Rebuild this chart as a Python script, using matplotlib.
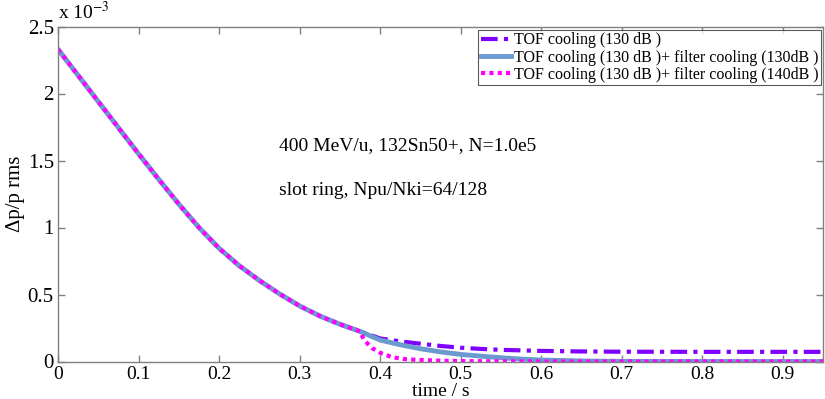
import matplotlib
matplotlib.use("Agg")
import matplotlib.pyplot as plt

# time axis (s) and dp/p rms values (in units of 1e-3)
t_common = [0.0, 0.025, 0.05, 0.075, 0.1, 0.125, 0.15, 0.175, 0.2, 0.225,
            0.25, 0.275, 0.3, 0.325, 0.35, 0.375]
v_common = [2.33, 2.135, 1.94, 1.745, 1.55, 1.36, 1.175, 1.0, 0.845, 0.715,
            0.605, 0.505, 0.415, 0.34, 0.278, 0.225]

t_tof = [0.375, 0.4, 0.425, 0.45, 0.475, 0.5, 0.525, 0.55, 0.6, 0.65, 0.7, 0.8, 0.95]
v_tof = [0.225, 0.172, 0.150, 0.133, 0.116, 0.103, 0.094, 0.087, 0.079, 0.075, 0.073, 0.072, 0.072]

t_f130 = [0.375, 0.4, 0.425, 0.45, 0.475, 0.5, 0.525, 0.55, 0.575, 0.6, 0.65, 0.7, 0.8, 0.95]
v_f130 = [0.225, 0.160, 0.125, 0.095, 0.072, 0.053, 0.040, 0.028, 0.018, 0.011, 0.004, 0.001, 0.0, 0.0]

t_f140 = [0.375, 0.38, 0.39, 0.4, 0.415, 0.43, 0.445, 0.475, 0.5, 0.55, 0.6, 0.95]
v_f140 = [0.225, 0.16, 0.10, 0.065, 0.032, 0.018, 0.012, 0.006, 0.003, 0.001, 0.0, 0.0]

labels = ["TOF cooling (130 dB )",
          "TOF cooling (130 dB )+ filter cooling (130dB )",
          "TOF cooling (130 dB )+ filter cooling (140dB )"]
x_ticks = [0, 0.1, 0.2, 0.3, 0.4, 0.5, 0.6, 0.7, 0.8, 0.9]
x_ticklabels = ["0", "0.1", "0.2", "0.3", "0.4", "0.5", "0.6", "0.7", "0.8", "0.9"]
y_ticks = [0, 0.5, 1, 1.5, 2, 2.5]
y_ticklabels = ["0", "0.5", "1", "1.5", "2", "2.5"]

plt.rcParams['font.family'] = ['Liberation Serif', 'DejaVu Serif']
plt.rcParams['mathtext.fontset'] = 'stix'

fig = plt.figure(figsize=(8.25, 3.99), dpi=100)
ax = fig.add_axes([58/825, 37.5/399, (823-58)/825, (362-27)/399])

c_purple = '#8000FF'
c_blue = '#6A9AD0'
c_mag = '#FF00FF'

tof_t = t_common + t_tof[1:]
tof_v = v_common + v_tof[1:]
f130_t = t_common + t_f130[1:]
f130_v = v_common + v_f130[1:]
f140_t = t_common + t_f140[1:]
f140_v = v_common + v_f140[1:]

ax.plot(tof_t, tof_v, color=c_purple, lw=3, linestyle=(0, (4, 1.5, 1, 1.5)),
        solid_joinstyle='round', label=labels[0])
ax.plot(f130_t, f130_v, color=c_blue, lw=3.5, linestyle='-',
        solid_joinstyle='round', label=labels[1])
ax.plot(f140_t, f140_v, color=c_mag, lw=3, linestyle=(0, (1, 1)), label=labels[2])

ax.set_xlim(0, 0.95)
ax.set_ylim(0, 2.5)
ax.set_xticks(x_ticks)
ax.set_xticklabels(x_ticklabels, fontsize=14)
ax.set_yticks(y_ticks)
ax.set_yticklabels(y_ticklabels, fontsize=15)
ax.tick_params(direction='in', top=True, right=True, length=5, color='#808080', width=1, pad=3)
for s in ax.spines.values():
    s.set_color('#808080')
    s.set_linewidth(1)

ax.set_xlabel("time / s", fontsize=14, labelpad=0)
ax.set_ylabel("Δp/p rms", fontsize=15, labelpad=2)

ax.text(0.0, 1.01, r"x 10$^{-3}$", transform=ax.transAxes, fontsize=14, ha='left', va='bottom')

ax.text(0.289, 0.645, "400 MeV/u, 132Sn50+, N=1.0e5", transform=ax.transAxes, fontsize=14, ha='left', va='center')
ax.text(0.289, 0.51, "slot ring, Npu/Nki=64/128", transform=ax.transAxes, fontsize=14, ha='left', va='center')

leg = ax.legend(loc='upper right', bbox_to_anchor=(0.9975, 0.99), fontsize=11.5, frameon=True,
                fancybox=False, edgecolor='#303030', handlelength=1.9, handletextpad=0.2,
                borderpad=0.15, labelspacing=0.08, borderaxespad=0.0)
leg.get_frame().set_linewidth(0.8)

fig.savefig("out.png", dpi=100)
